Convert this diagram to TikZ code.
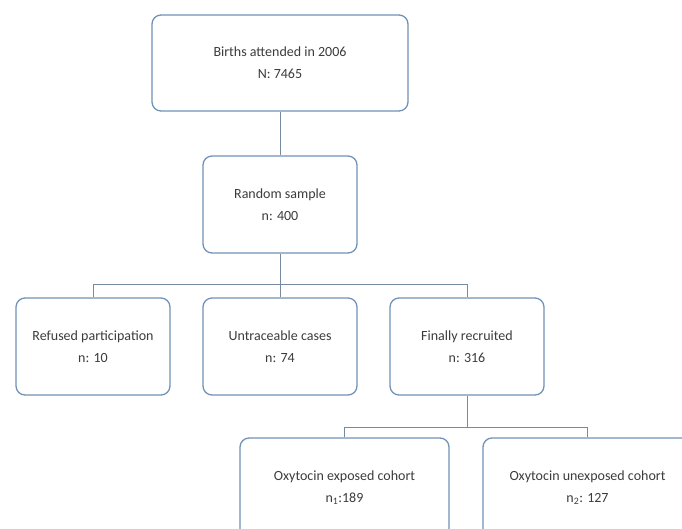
\documentclass[tikz,border=0pt]{standalone}
\usepackage{fontspec}
\setmainfont{Carlito}
\definecolor{boxline}{RGB}{112,146,182}
\definecolor{linkline}{RGB}{118,138,160}
\definecolor{txt}{RGB}{60,60,60}
\tikzset{
  flowbox/.style={draw=boxline, line width=1.3pt, fill=white, rounded corners=9pt,
    align=center, text=txt, font=\fontsize{14}{22}\selectfont, inner sep=0pt},
  link/.style={draw=linkline, line width=1pt}
}
\begin{document}
\begin{tikzpicture}[x=1pt, y=-1pt]
  \useasboundingbox (0,0) rectangle (682,529);
  \clip (0,0) rectangle (682,529);

  % connectors first, boxes drawn on top
  \coordinate (j1) at (280,284);
  \coordinate (j2) at (467,427);

  \node[flowbox, minimum width=256pt, minimum height=96pt] (births) at (280,63)
    {Births attended in 2006\\N: 7465};
  \node[flowbox, minimum width=154pt, minimum height=97pt] (sample) at (280,204.5)
    {Random sample\\n: 400};

  \node[flowbox, minimum width=154pt, minimum height=97pt] (refused) at (93,346.5)
    {Refused participation\\n: 10};
  \node[flowbox, minimum width=154pt, minimum height=97pt] (untrace) at (280,346.5)
    {Untraceable cases\\n: 74};
  \node[flowbox, minimum width=154pt, minimum height=97pt] (recruit) at (467,346.5)
    {Finally recruited\\n: 316};

  \node[flowbox, minimum width=209pt, minimum height=100pt] (exposed) at (344.5,488)
    {Oxytocin exposed cohort\\n\textsubscript{1}:189};
  \node[flowbox, minimum width=209pt, minimum height=100pt] (unexposed) at (587.5,488)
    {Oxytocin unexposed cohort\\n\textsubscript{2}: 127};

  \draw[link] (births.south) -- (sample.north);
  \draw[link] (sample.south) -- (j1);
  \draw[link] (refused.north) |- (j1);
  \draw[link] (untrace.north) -- (j1);
  \draw[link] (recruit.north) |- (j1);

  \draw[link] (recruit.south) -- (j2);
  \draw[link] (exposed.north) |- (j2);
  \draw[link] (unexposed.north) |- (j2);
\end{tikzpicture}
\end{document}
